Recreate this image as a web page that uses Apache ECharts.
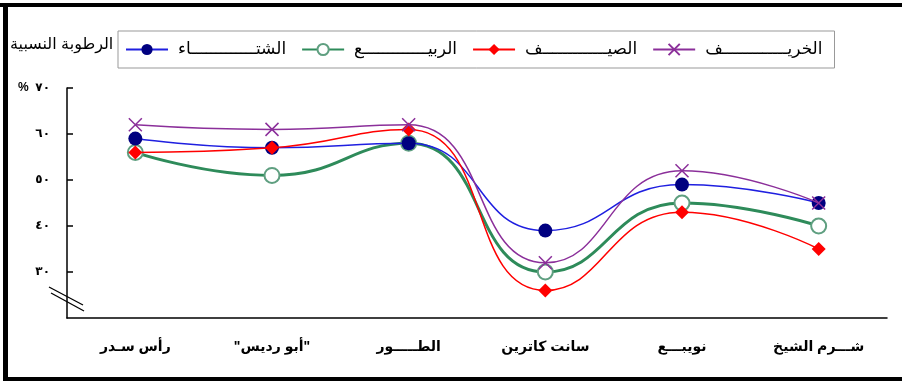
<!DOCTYPE html>
<html>
<head>
<meta charset="utf-8">
<script src="https://cdn.jsdelivr.net/npm/echarts@6/dist/echarts.min.js"></script>
<style>
  html, body { margin: 0; padding: 0; background: #fff; }
  #chart { width: 902px; height: 384px; }
</style>
</head>
<body>
<div id="chart"></div>
<script>
// stations, left to right on the axis
const stations = ["رأس سـدر", "\"أبو رديس\"", "الطـــــور", "سانت كاترين", "نويبـــع", "شـــرم الشيخ"];
const seasonNames = ["الشتـــــــــــــاء", "الربيـــــــــــــع", "الصيـــــــــــــف", "الخريـــــــــــــف"];

// relative humidity %
const winter = [59, 57, 58, 39, 49, 45];
const spring = [56, 51, 58, 30, 45, 40];
const summer = [56, 57, 61, 26, 43, 35];
const autumn = [62, 61, 62, 32, 52, 45];

const yTicks = [30, 40, 50, 60, 70];
const arabicDigits = ["٠", "١", "٢", "٣", "٤", "٥", "٦", "٧", "٨", "٩"];
const toArabic = (n) => String(n).split("").map((d) => arabicDigits[+d]).join("");

const font = 'Arial, "DejaVu Sans", sans-serif';

const chart = echarts.init(document.getElementById("chart"));

const option = {
  backgroundColor: "#fff",
  animation: false,
  textStyle: { fontFamily: font },
  grid: { left: 67, right: 15, top: 88, bottom: 66 },
  legend: {
    data: seasonNames,
    left: 118,
    top: 31,
    padding: [10, 12, 10, 7],
    itemGap: 15,
    itemWidth: 42,
    itemHeight: 14,
    borderColor: "#999",
    borderWidth: 1,
    textStyle: { fontSize: 17, color: "#000", fontFamily: font, padding: [0, 0, 0, 5] },
  },
  xAxis: {
    type: "category",
    data: stations,
    boundaryGap: true,
    axisLine: { lineStyle: { color: "#000", width: 1.5 } },
    axisTick: { inside: true, length: 6, lineStyle: { color: "#000", width: 1.5 } },
    axisLabel: { margin: 22, fontSize: 14, fontWeight: "bold", color: "#000", fontFamily: font },
  },
  yAxis: {
    type: "value",
    min: 20,
    max: 70,
    interval: 10,
    splitLine: { show: false },
    axisLine: { show: true, lineStyle: { color: "#000", width: 1.5 } },
    axisTick: { show: true, inside: true, length: 6, customValues: yTicks, lineStyle: { color: "#000", width: 1.5 } },
    axisLabel: {
      customValues: yTicks,
      margin: 17,
      fontSize: 12,
      fontWeight: "bold",
      color: "#000",
      fontFamily: font,
      formatter: (v) => (v === 70 ? "%  " + toArabic(v) : toArabic(v)),
    },
  },
  graphic: [
    // frame
    { type: "rect", shape: { x: 0, y: 3, width: 902, height: 4 }, style: { fill: "#000" } },
    { type: "rect", shape: { x: 3, y: 3, width: 5, height: 378 }, style: { fill: "#000" } },
    { type: "rect", shape: { x: 3, y: 377, width: 899, height: 4 }, style: { fill: "#000" } },
    // axis name
    {
      type: "text",
      left: 10,
      top: 37,
      style: { text: "الرطوبة النسبية", fontSize: 16, fontFamily: font, fill: "#000" },
    },
    // axis break marks
    { type: "line", shape: { x1: 49, y1: 287, x2: 83, y2: 305 }, style: { stroke: "#000", lineWidth: 1.3 } },
    { type: "line", shape: { x1: 51, y1: 293, x2: 84, y2: 311 }, style: { stroke: "#000", lineWidth: 1.3 } },
  ],
  series: [
    {
      name: seasonNames[0],
      type: "line",
      data: winter,
      smooth: true,
      z: 3,
      symbol: "circle",
      symbolSize: 14,
      lineStyle: { color: "#1f1fe0", width: 1.5 },
      itemStyle: { color: "#000080" },
    },
    {
      name: seasonNames[1],
      type: "line",
      data: spring,
      smooth: true,
      z: 2,
      symbol: "emptyCircle",
      symbolSize: 15,
      lineStyle: { color: "#2e8b5a", width: 3 },
      itemStyle: { color: "#5f9f80", borderWidth: 1.5 },
    },
    {
      name: seasonNames[2],
      type: "line",
      data: summer,
      smooth: true,
      z: 4,
      symbol: "diamond",
      symbolSize: 14,
      lineStyle: { color: "#ff0000", width: 1.5 },
      itemStyle: { color: "#ff0000" },
    },
    {
      name: seasonNames[3],
      type: "line",
      data: autumn,
      smooth: true,
      z: 5,
      symbol: "path://M0,0L10,10M10,0L0,10",
      symbolSize: 13,
      lineStyle: { color: "#8b2f9a", width: 1.5 },
      itemStyle: { color: "#8b2f9a", borderColor: "#8b2f9a", borderWidth: 1.5 },
    },
  ],
};

chart.setOption(option);
</script>
</body>
</html>
